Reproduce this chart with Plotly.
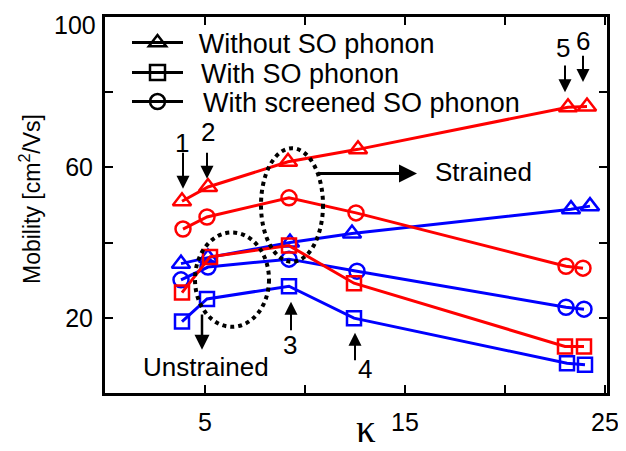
import plotly.graph_objects as go

# ---- data ----
kappa_red_tri = [3.85, 5.15, 9.15, 12.65, 23.15, 24.1]
mob_red_tri = [51.0, 54.8, 61.5, 64.8, 76.0, 76.2]      # Without SO phonon (strained)
kappa_blue_tri = [3.8, 5.15, 9.25, 12.35, 23.3, 24.25]
mob_blue_tri = [34.4, 36.0, 40.0, 42.4, 48.9, 49.7]     # Without SO phonon (unstrained)

kappa_red_sq = [3.85, 5.25, 9.2, 12.45, 23.0, 23.95]
mob_red_sq = [26.7, 36.2, 39.2, 29.2, 12.4, 12.4]       # With SO phonon (strained)
kappa_blue_sq = [3.85, 5.1, 9.2, 12.45, 23.1, 24.0]
mob_blue_sq = [19.0, 25.0, 28.4, 19.9, 7.9, 7.5]        # With SO phonon (unstrained)

kappa_red_ci = [3.9, 5.1, 9.2, 12.55, 23.05, 23.9]
mob_red_ci = [43.6, 46.8, 51.9, 47.9, 33.7, 33.2]       # With screened SO phonon (strained)
kappa_blue_ci = [3.8, 5.15, 9.2, 12.6, 23.05, 23.95]
mob_blue_ci = [30.1, 33.5, 35.6, 32.4, 22.8, 22.3]      # With screened SO phonon (unstrained)

legend_names = ["Without SO phonon", "With SO phonon", "With screened SO phonon"]
x_tickvals = [5, 10, 15, 20, 25]
x_ticktext = ["5", "", "15", "", "25"]
y_tickvals = [0, 20, 40, 60, 80, 100]
y_ticktext = ["", "20", "", "60", "", ""]
y_top_label = "100"   # drawn just below the top tick, as in the original

RED = "#ff0000"
BLUE = "#0000ff"
FONT = "Liberation Sans, Arial, sans-serif"

# The page body has an 8px margin, so the figure sits 8px in from the window corner
W, H = 618, 443
ML, MR, MT, MB = 97, 19, 9, 58
PW, PH = W - ML - MR, H - MT - MB   # 502 x 376 plot area

fig = go.Figure()

def add_series(x, y, color, symbol, size):
    fig.add_trace(go.Scatter(
        x=x, y=y, mode="lines+markers", showlegend=False, cliponaxis=False,
        line=dict(color=color, width=3),
        marker=dict(symbol=symbol, size=size, color=color,
                    line=dict(color=color, width=2.5)),
    ))

# blue (unstrained) first, then red on top
add_series(kappa_blue_tri, mob_blue_tri, BLUE, "triangle-up-open", 16)
add_series(kappa_blue_ci, mob_blue_ci, BLUE, "circle-open", 15)
add_series(kappa_blue_sq, mob_blue_sq, BLUE, "square-open", 14)
add_series(kappa_red_tri, mob_red_tri, RED, "triangle-up-open", 16)
add_series(kappa_red_ci, mob_red_ci, RED, "circle-open", 15)
add_series(kappa_red_sq, mob_red_sq, RED, "square-open", 14)

# legend entries (black), each in its own legend box for exact spacing
legend_ids = ["legend", "legend2", "legend3"]
legend_pad = ["\u2009\u2009", "\u00a0\u2009", "\u00a0\u00a0"]
for name, sym, lid, pad in zip(legend_names, ["triangle-up-open", "square-open", "circle-open"],
                               legend_ids, legend_pad):
    fig.add_trace(go.Scatter(
        x=[None], y=[None], mode="lines+markers", name=pad + name, legend=lid,
        line=dict(color="black", width=3),
        marker=dict(symbol=sym, size=15, color="black",
                    line=dict(color="black", width=2.5)),
    ))

# dotted ellipses
fig.add_shape(type="circle", xref="x", yref="y", x0=7.8, x1=10.9, y0=34.9, y1=65.1,
              line=dict(color="black", width=4, dash="dot"))
fig.add_shape(type="circle", xref="x", yref="y", x0=4.5, x1=8.2, y0=17.6, y1=42.7,
              line=dict(color="black", width=4, dash="dot"))

ann = []

def label(x, y, text, size=26):
    ann.append(dict(x=x, y=y, xref="x", yref="y", text=text, showarrow=False,
                    xanchor="center", yanchor="middle",
                    font=dict(family=FONT, size=size, color="black")))

def arrow(x0, y0, x1, y1, w=2, s=1.3):
    ann.append(dict(x=x1, y=y1, ax=x0, ay=y0, xref="x", yref="y", axref="x", ayref="y",
                    text="", showarrow=True, arrowhead=2, arrowsize=s, arrowwidth=w,
                    arrowcolor="black"))

label(3.85, 66.6, "1"); arrow(3.9, 64.3, 3.9, 54.3)
label(5.15, 69.3, "2"); arrow(5.1, 64.3, 5.1, 57.0)
label(9.25, 12.8, "3"); arrow(9.3, 16.3, 9.3, 24.3)
label(13.0, 6.4, "4"); arrow(12.5, 8.3, 12.5, 16.0)
label(22.9, 91.7, "5"); arrow(23.0, 87.5, 23.0, 80.0)
label(23.9, 93.6, "6"); arrow(23.9, 90.1, 23.9, 82.7)
label(18.9, 58.7, "Strained"); arrow(10.6, 58.4, 15.6, 58.4, w=3, s=1.2)
label(5.05, 6.9, "Unstrained"); arrow(4.85, 21.3, 4.85, 11.5, w=2.5, s=1.2)

# top y tick label, sitting just below the 100 tick
ann.append(dict(x=-7 / PW, y=(393 - 25) / PH, xref="paper", yref="paper",
                xanchor="right", yanchor="middle", text=y_top_label, showarrow=False,
                font=dict(family=FONT, size=25, color="black")))

# axis titles (offsets in plot-area pixels)
ann.append(dict(x=(366 - 105) / PW, y=-(428 - 393) / PH, xref="paper", yref="paper",
                xanchor="center", yanchor="middle",
                text="κ", showarrow=False,
                font=dict(family="Liberation Serif, Times New Roman, serif", size=39, color="black")))
ann.append(dict(x=-75 / PW, y=(393 - 199) / PH, xref="paper", yref="paper",
                xanchor="center", yanchor="middle",
                text="Mobility [cm<sup>2</sup>/Vs]", showarrow=False, textangle=-90,
                font=dict(family=FONT, size=23, color="black")))

def legend_box(y_center_px):
    return dict(x=(127 - 105) / PW, y=(393 - y_center_px) / PH, xanchor="left", yanchor="middle",
                bgcolor="rgba(0,0,0,0)", borderwidth=0,
                font=dict(family=FONT, size=27, color="black"),
                itemwidth=51)

fig.update_layout(
    width=W, height=H,
    margin=dict(l=ML, r=MR, t=MT, b=MB, autoexpand=False),
    paper_bgcolor="white", plot_bgcolor="white",
    annotations=ann,
    showlegend=True,
    legend=legend_box(43),
    legend2=legend_box(73),
    legend3=legend_box(102),
    font=dict(family=FONT, color="black"),
)
fig.update_xaxes(range=[0, 25.1], tickvals=x_tickvals, ticktext=x_ticktext,
                 ticks="inside", ticklen=8, tickwidth=2, tickcolor="black",
                 showline=True, linewidth=3, linecolor="black", mirror="allticks",
                 showgrid=False, zeroline=False, ticklabelstandoff=5, automargin=False,
                 ticklabeloverflow="allow",
                 tickfont=dict(family=FONT, size=25, color="black"))
fig.update_yaxes(range=[0, 100], tickvals=y_tickvals, ticktext=y_ticktext,
                 ticks="inside", ticklen=8, tickwidth=2, tickcolor="black",
                 showline=True, linewidth=3, linecolor="black", mirror="allticks",
                 showgrid=False, zeroline=False, ticklabelstandoff=4, automargin=False,
                 ticklabeloverflow="allow",
                 tickfont=dict(family=FONT, size=25, color="black"))

fig.write_html("out.html")
